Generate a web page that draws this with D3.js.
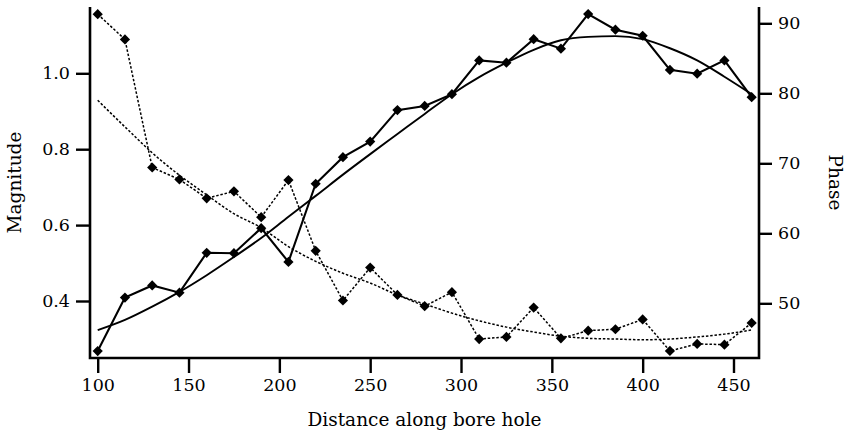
<!DOCTYPE html>
<html>
<head>
<meta charset="utf-8">
<script src="https://cdn.jsdelivr.net/npm/d3@7"></script>
<style>
  html, body { margin: 0; padding: 0; background: #fff; }
  svg text { font-family: "DejaVu Serif", "Liberation Serif", serif; fill: #000; }
</style>
</head>
<body>
<svg id="chart" width="848" height="435"></svg>
<script>
// ---- data ----
const distance = [100,115,130,145,160,175,190,205,220,235,250,265,280,295,310,325,340,355,370,385,400,415,430,445,460];
const magnitude = [0.268,0.409,0.441,0.422,0.527,0.526,0.592,0.503,0.709,0.779,0.820,0.903,0.914,0.945,1.034,1.028,1.090,1.065,1.156,1.115,1.099,1.009,0.999,1.034,0.937];
const magnitudeFit = [0.323,0.350,0.385,0.424,0.468,0.516,0.566,0.622,0.677,0.733,0.787,0.840,0.893,0.945,0.990,1.028,1.062,1.087,1.096,1.098,1.090,1.066,1.034,0.991,0.945];
const phase = [91.3,87.7,69.4,67.7,65.0,66.0,62.3,67.6,57.5,50.4,55.1,51.2,49.6,51.6,44.9,45.2,49.4,45.0,46.1,46.3,47.7,43.2,44.2,44.1,47.2];
const phaseFit = [79.0,75.2,71.5,68.3,65.5,62.8,60.8,58.1,56.0,54.3,52.9,51.2,49.9,48.6,47.5,46.6,45.9,45.3,45.0,44.9,44.8,44.9,45.2,45.6,46.2];
const xTicks = [100,150,200,250,300,350,400,450];
const magTicks = [0.4,0.6,0.8,1.0];
const phaseTicks = [50,60,70,80,90];
const xLabel = "Distance along bore hole";
const leftLabel = "Magnitude";
const rightLabel = "Phase";

// ---- layout ----
const svg = d3.select("#chart");
const L = 90, R = 759, T = 7, B = 358;

const x = d3.scaleLinear().domain([95.76, 464.04]).range([L, R]);
const yMag = d3.scaleLinear().domain([0.2498, 1.1747]).range([B, T]);
const yPh = d3.scaleLinear().domain([42.19, 92.33]).range([B, T]);

svg.append("rect").attr("width", 848).attr("height", 435).attr("fill", "#fff");

// axes
const tickFont = 17.5, titleFont = 18.5;
const xAxis = svg.append("g").attr("transform", `translate(0,${B})`)
  .call(d3.axisBottom(x).tickValues(xTicks).tickSize(15).tickPadding(6).tickFormat(d3.format("d")));
const lAxis = svg.append("g").attr("transform", `translate(${L},0)`)
  .call(d3.axisLeft(yMag).tickValues(magTicks).tickSize(14).tickPadding(6).tickFormat(d3.format(".1f")));
const rAxis = svg.append("g").attr("transform", `translate(${R},0)`)
  .call(d3.axisRight(yPh).tickValues(phaseTicks).tickSize(13).tickPadding(6).tickFormat(d3.format("d")));

[xAxis, lAxis, rAxis].forEach(g => {
  g.select(".domain").remove();
  g.selectAll(".tick line").attr("stroke", "#000").attr("stroke-width", 2.4);
  g.selectAll(".tick text").attr("font-size", tickFont).attr("font-family", "DejaVu Serif").attr("fill", "#000");
});
// axis frame lines (no top)
svg.append("path")
  .attr("d", `M${L},${T}V${B}H${R}V${T}`)
  .attr("fill", "none").attr("stroke", "#000").attr("stroke-width", 2.6)
  .attr("stroke-linejoin", "miter");

// axis titles
svg.append("text").attr("x", (L + R) / 2).attr("y", 426)
  .attr("text-anchor", "middle").attr("font-size", titleFont).text(xLabel);
svg.append("text").attr("transform", `translate(21,${(T + B) / 2}) rotate(-90)`)
  .attr("text-anchor", "middle").attr("font-size", titleFont).text(leftLabel);
svg.append("text").attr("transform", `translate(829,${(T + B) / 2}) rotate(90)`)
  .attr("text-anchor", "middle").attr("font-size", titleFont).text(rightLabel);

// lines
const lineMag = d3.line().x((d, i) => x(distance[i])).y(d => yMag(d));
const lineMagSmooth = d3.line().x((d, i) => x(distance[i])).y(d => yMag(d)).curve(d3.curveMonotoneX);
const linePh = d3.line().x((d, i) => x(distance[i])).y(d => yPh(d));
const linePhSmooth = d3.line().x((d, i) => x(distance[i])).y(d => yPh(d)).curve(d3.curveMonotoneX);

svg.append("path").datum(phaseFit).attr("d", linePhSmooth)
  .attr("fill", "none").attr("stroke", "#000").attr("stroke-width", 1.5).attr("stroke-dasharray", "2.5,1.8");
svg.append("path").datum(magnitudeFit).attr("d", lineMagSmooth)
  .attr("fill", "none").attr("stroke", "#000").attr("stroke-width", 1.9);
svg.append("path").datum(phase).attr("d", linePh)
  .attr("fill", "none").attr("stroke", "#000").attr("stroke-width", 1.5).attr("stroke-dasharray", "2.5,1.8");
svg.append("path").datum(magnitude).attr("d", lineMag)
  .attr("fill", "none").attr("stroke", "#000").attr("stroke-width", 2.1);

const diamond = d3.symbol().type(d3.symbolSquare).size(52);
svg.append("g").selectAll("path").data(phase).join("path")
  .attr("d", diamond)
  .attr("transform", (d, i) => `translate(${x(distance[i])},${yPh(d)}) rotate(45)`)
  .attr("fill", "#000");
svg.append("g").selectAll("path").data(magnitude).join("path")
  .attr("d", diamond)
  .attr("transform", (d, i) => `translate(${x(distance[i])},${yMag(d)}) rotate(45)`)
  .attr("fill", "#000");
</script>
</body>
</html>
